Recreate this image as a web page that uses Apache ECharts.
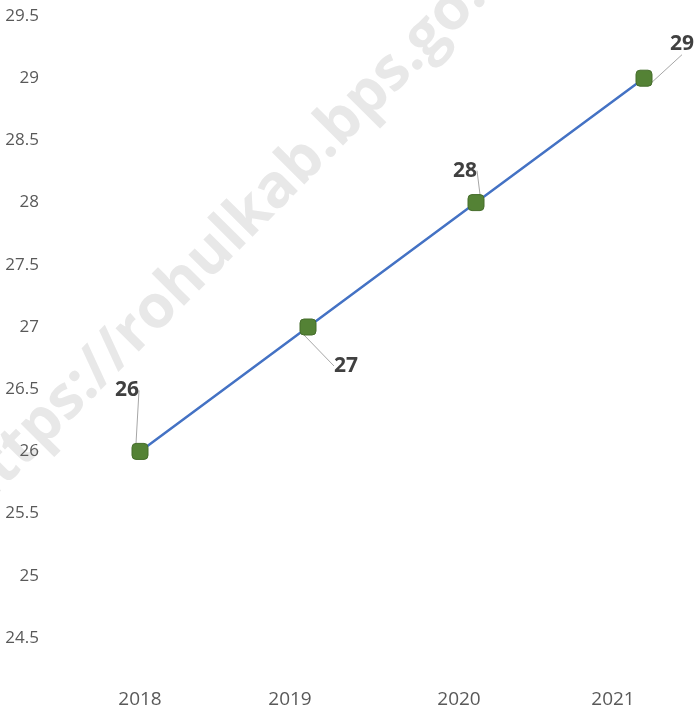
<!DOCTYPE html>
<html>
<head>
<meta charset="utf-8">
<script src="https://cdn.jsdelivr.net/npm/echarts@6/dist/echarts.min.js"></script>
<style>
  html, body { margin: 0; padding: 0; background: #fff; }
  #chart { width: 696px; height: 712px; }
</style>
</head>
<body>
<div id="chart"></div>
<script>
const years = ['2018', '2019', '2020', '2021']
const values = [26, 27, 28, 29]
// where each data label sits relative to its marker
const labelShift = [[-13, -61], [38, 39], [-11, -32], [38, -34]]
// the year labels in the picture are not quite under the markers
const yearShift = [0, -18, -17, -31]

const chart = echarts.init(document.getElementById('chart'))

const rich = {}
yearShift.forEach((s, i) => {
  rich['y' + i] = {
    fontSize: 19,
    color: '#595959',
    fontFamily: 'Open Sans',
    padding: s < 0 ? [0, -2 * s, 0, 0] : [0, 0, 0, 2 * s]
  }
})

const option = {
  animation: false,
  grid: {
    left: 140,
    right: 52,
    top: 16,
    bottom: 74
  },
  graphic: [{
    type: 'text',
    z: -10,
    x: 240,
    y: 225,
    rotation: 0.79,
    style: {
      text: 'https://rohulkab.bps.go.id',
      fontSize: 60,
      fontWeight: 'bold',
      fontFamily: 'Open Sans',
      fill: '#e8e8e8',
      align: 'center',
      verticalAlign: 'middle'
    }
  }],
  xAxis: {
    type: 'category',
    boundaryGap: false,
    data: years,
    axisLine: { show: false },
    axisTick: { show: false },
    axisLabel: {
      margin: 52,
      formatter: (v, i) => '{y' + i + '|' + v + '}',
      rich: rich
    }
  },
  yAxis: {
    type: 'value',
    min: 24.5,
    max: 29.5,
    interval: 0.5,
    splitLine: { show: false },
    axisLine: { show: false },
    axisTick: { show: false },
    axisLabel: {
      margin: 101,
      fontSize: 17,
      color: '#595959',
      fontFamily: 'Open Sans'
    }
  },
  series: [{
    type: 'line',
    data: values,
    symbol: 'roundRect',
    symbolSize: 16,
    itemStyle: {
      color: '#548235',
      borderColor: '#456d2b',
      borderWidth: 1
    },
    lineStyle: { color: '#4472c4', width: 2.5 },
    label: {
      show: true,
      position: 'inside',
      fontSize: 21,
      fontWeight: 'bold',
      color: '#404040',
      fontFamily: 'Open Sans'
    },
    labelLine: {
      show: true,
      lineStyle: { color: '#a6a6a6', width: 1 }
    },
    labelLayout: (p) => ({
      dx: labelShift[p.dataIndex][0],
      dy: labelShift[p.dataIndex][1]
    })
  }]
}

chart.setOption(option)
</script>
</body>
</html>
